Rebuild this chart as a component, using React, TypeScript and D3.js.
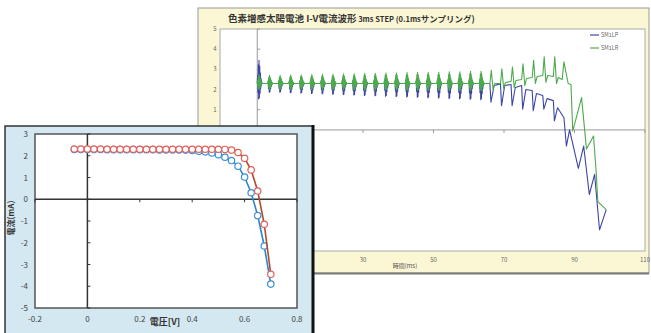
import React from "react";
import * as d3 from "d3";

// ===== back chart: I-V current waveform (time in ms, current in mA) =====
const stepTimes = [0, 3, 6, 9, 12, 15, 18, 21, 24, 27, 30, 33, 36, 39, 42, 45, 48, 51, 54, 57, 60, 63];
const baseLevel = 2.3;
const greenHi = [2.75, 2.7, 2.7, 2.72, 2.72, 2.74, 2.75, 2.76, 2.78, 2.78, 2.8, 2.8, 2.82, 2.82, 2.84, 2.85, 2.86, 2.86, 2.88, 2.88, 2.9, 2.9];
const greenLo = [2.0, 2.0, 2.0, 2.0, 2.0, 2.0, 1.98, 1.98, 1.98, 1.98, 1.96, 1.96, 1.96, 1.96, 1.95, 1.95, 1.95, 1.95, 1.94, 1.94, 1.94, 1.94];
const blueHi = [3.45, 2.6, 2.6, 2.6, 2.62, 2.62, 2.62, 2.62, 2.64, 2.64, 2.64, 2.64, 2.65, 2.65, 2.65, 2.65, 2.66, 2.66, 2.66, 2.66, 2.66, 2.66];
const blueLo = [1.5, 1.85, 1.85, 1.82, 1.8, 1.78, 1.76, 1.74, 1.72, 1.7, 1.68, 1.66, 1.64, 1.62, 1.6, 1.58, 1.56, 1.54, 1.52, 1.5, 1.48, 1.46];
// ringing seen inside each spike (0.1ms samples), relative to hi / lo
const ringShape = [0, 0.35, -0.55, 0.8, -0.95, 1, -0.9, 0.75, -0.6, 0.45, -0.3, 0.2, -0.1, 0.05, 0];

const greenTail: [number, number][] = [
  [66, 2.3], [66.4, 2.95], [66.9, 2.0], [67.4, 2.3],
  [69, 2.3], [69.4, 3.03], [69.9, 2.05], [70.4, 2.35],
  [72, 2.4], [72.4, 3.12], [72.9, 2.1], [73.4, 2.45],
  [75, 2.5], [75.4, 3.28], [75.9, 2.2], [76.4, 2.55],
  [78, 2.6], [78.4, 3.45], [78.9, 2.3], [79.4, 2.65],
  [81, 2.7], [81.4, 3.62], [81.9, 2.35], [82.4, 2.7],
  [84, 2.65], [84.4, 3.62], [84.9, 2.3], [85.4, 2.6],
  [86.5, 2.5], [87, 3.37], [88.2, 2.3], [89, 2.25], [89.5, -0.05], [90.5, 0.6],
  [92, 1.6], [93.4, -0.95], [95.4, -0.3], [96.2, -2.2], [96.6, -3.55], [99, -3.95],
];
const blueTail: [number, number][] = [
  [66, 2.3], [66.3, 1.37], [67.2, 2.2], [69, 2.28],
  [69.3, 1.2], [70.2, 2.2], [72, 2.25],
  [72.3, 1.2], [73.2, 2.1], [75, 2.2],
  [75.3, 1.03], [76.2, 2.0], [78, 1.95],
  [78.3, 0.95], [79.2, 1.8], [81, 1.7],
  [81.3, 1.03], [82.2, 1.55], [84, 1.45],
  [84.3, 0.45], [85.2, 1.1], [87, 0.6],
  [87.7, -0.8], [88.6, 0.0], [91.1, -1.9], [92.6, -0.8], [94.2, -3.2],
  [95.7, -2.2], [97.1, -4.95], [99, -3.95],
];
const backYTicks = [5, 4, 3, 2, 1, 0, -1, -2, -3, -4, -5, -6];
const backXTicks = [-10, 10, 30, 50, 70, 90, 110];
const legendNames = ["SM1LP", "SM1LR"];

// ===== front chart: I-V curve =====
const voltage = [-0.05, -0.025, 0, 0.025, 0.05, 0.075, 0.1, 0.125, 0.15, 0.175, 0.2, 0.225, 0.25, 0.275, 0.3, 0.325,
  0.35, 0.375, 0.4, 0.425, 0.45, 0.475, 0.5, 0.525, 0.55, 0.575, 0.6, 0.625, 0.65, 0.675, 0.7];
const currentRed = [2.31, 2.31, 2.31, 2.31, 2.31, 2.3, 2.3, 2.3, 2.3, 2.3, 2.3, 2.3, 2.3, 2.3, 2.3, 2.3,
  2.3, 2.3, 2.3, 2.3, 2.3, 2.3, 2.3, 2.29, 2.26, 2.15, 1.88, 1.35, 0.38, -1.15, -3.45];
const currentBlue = [2.29, 2.29, 2.29, 2.29, 2.29, 2.28, 2.28, 2.28, 2.28, 2.28, 2.28, 2.28, 2.28, 2.27, 2.27, 2.27,
  2.27, 2.26, 2.24, 2.21, 2.18, 2.13, 2.05, 1.93, 1.78, 1.52, 1.02, 0.3, -0.75, -2.15, -3.9];
const frontXTicks = [-0.2, 0, 0.2, 0.4, 0.6, 0.8];
const frontYTicks = [3, 2, 1, 0, -1, -2, -3, -4, -5];

const font = "'Noto Sans CJK JP', 'Noto Sans', sans-serif";

const buildWave = (hi: number[], lo: number[], tail: [number, number][]) => {
  const pts: [number, number][] = [];
  stepTimes.forEach((t, i) => {
    ringShape.forEach((r, j) => {
      const v = r >= 0 ? baseLevel + r * (hi[i] - baseLevel) : baseLevel + r * (baseLevel - lo[i]);
      pts.push([t + j * 0.1, v]);
    });
  });
  return pts.concat(tail);
};

const App = () => {
  // back chart geometry
  const xB = d3.scaleLinear().domain([-10, 110]).range([222, 645]);
  const yB = d3.scaleLinear().domain([-6, 5]).range([251, 29]);
  const lineB = d3.line<[number, number]>().x(d => xB(d[0])).y(d => yB(d[1]));
  const bluePts = buildWave(blueHi, blueLo, blueTail);
  const greenPts = buildWave(greenHi, greenLo, greenTail);

  // front chart geometry
  const xF = d3.scaleLinear().domain([-0.2, 0.8]).range([35, 297]);
  const yF = d3.scaleLinear().domain([-5, 3]).range([308, 134]);
  const redData = voltage.map((v, i) => [v, currentRed[i]] as [number, number]);
  const blueData = voltage.map((v, i) => [v, currentBlue[i]] as [number, number]);
  const lineF = d3.line<[number, number]>().x(d => xF(d[0])).y(d => yF(d[1]));

  return (
    <svg width={651} height={333} style={{ position: "absolute", left: 0, top: 0, background: "#fff" }} fontFamily={font}>
      {/* === back panel === */}
      <rect x={198} y={8} width={451} height={265} fill="#fbf7d4" stroke="#9a9a9a" strokeWidth={1} />
      <line x1={198} x2={649} y1={273.5} y2={273.5} stroke="#7a7a7a" strokeWidth={2} />
      <text x={228} y={22} fill="#333" fontWeight="bold" fontSize={9.5}>
        色素増感太陽電池 I-V電流波形
        <tspan fontSize={7.5}> 3ms STEP (0.1ms</tspan>
        <tspan fontSize={8.5}>サンプリング)</tspan>
      </text>
      <rect x={220} y={29} width={425} height={222} fill="#fff" stroke="#aaa" strokeWidth={1} />
      <defs>
        <clipPath id="backClip">
          <rect x={220} y={29} width={425} height={222} />
        </clipPath>
      </defs>
      <line x1={220} x2={645} y1={yB(0)} y2={yB(0)} stroke="#999" strokeWidth={1} />
      <line x1={xB(0)} x2={xB(0)} y1={29} y2={251} stroke="#999" strokeWidth={1} />
      {backYTicks.map(t => (
        <g key={t}>
          <line x1={xB(0)} x2={xB(0) + 3} y1={yB(t)} y2={yB(t)} stroke="#999" />
          <text x={215} y={yB(t) + 2} fontSize={6} fill="#666" textAnchor="middle">{t}</text>
        </g>
      ))}
      {backXTicks.map(t => (
        <g key={t}>
          <line x1={xB(t)} x2={xB(t)} y1={yB(0)} y2={yB(0) + 3} stroke="#999" />
          <text x={xB(t)} y={262} fontSize={6} fill="#666" textAnchor="middle">{t}</text>
        </g>
      ))}
      <text x={405} y={268} fontSize={6} fill="#555" textAnchor="middle">時間(ms)</text>
      <g clipPath="url(#backClip)" fill="none" strokeLinejoin="round">
        <path d={lineB(bluePts) ?? ""} stroke="#3d44a6" strokeWidth={1.1} />
        <path d={lineB(greenPts) ?? ""} stroke="#4caa4c" strokeWidth={1.1} />
      </g>
      {legendNames.map((name, i) => (
        <g key={name}>
          <line x1={590} x2={599} y1={35 + i * 13} y2={35 + i * 13} stroke={i === 0 ? "#3d44a6" : "#4caa4c"} strokeWidth={1.2} />
          <text x={601} y={37 + i * 13} fontSize={5.5} fill="#666">{name}</text>
        </g>
      ))}

      {/* === front panel === */}
      <rect x={5} y={126} width={308} height={212} fill="#d3e8f0" stroke="#333" strokeWidth={1.5} />
      <line x1={313} x2={313} y1={125} y2={333} stroke="#111" strokeWidth={3} />
      <rect x={35} y={134} width={262} height={174} fill="#fff" stroke="#555" strokeWidth={1.5} />
      <line x1={35} x2={297} y1={yF(0)} y2={yF(0)} stroke="#333" strokeWidth={1.5} />
      <line x1={xF(0)} x2={xF(0)} y1={134} y2={308} stroke="#333" strokeWidth={1.5} />
      {frontYTicks.map(t => (
        <g key={t}>
          <line x1={xF(0)} x2={xF(0) + 3} y1={yF(t)} y2={yF(t)} stroke="#333" />
          <text x={28} y={yF(t) + 3} fontSize={8} fill="#444" textAnchor="end">{t}</text>
        </g>
      ))}
      {frontXTicks.map(t => (
        <g key={t}>
          <line x1={xF(t)} x2={xF(t)} y1={yF(0)} y2={yF(0) + 3} stroke="#333" />
          <text x={xF(t)} y={322} fontSize={8} fill="#444" textAnchor="middle">{t}</text>
        </g>
      ))}
      <text x={165} y={325} fontSize={9} fontWeight="bold" fill="#333" textAnchor="middle">電圧[V]</text>
      <text transform="translate(14,218) rotate(-90)" fontSize={8} fontWeight="bold" fill="#333" textAnchor="middle">電流(mA)</text>
      <path d={lineF(blueData) ?? ""} fill="none" stroke="#2e86c8" strokeWidth={1.6} />
      {blueData.map((d, i) => (
        <circle key={"b" + i} cx={xF(d[0])} cy={yF(d[1])} r={3.2} fill="#fff" stroke="#3b8fd6" strokeWidth={1.2} />
      ))}
      <path d={lineF(redData) ?? ""} fill="none" stroke="#b34a2e" strokeWidth={1.6} />
      {redData.map((d, i) => (
        <circle key={"r" + i} cx={xF(d[0])} cy={yF(d[1])} r={3.2} fill="#fff" stroke="#e0605a" strokeWidth={1.2} />
      ))}
    </svg>
  );
};

export default App;
